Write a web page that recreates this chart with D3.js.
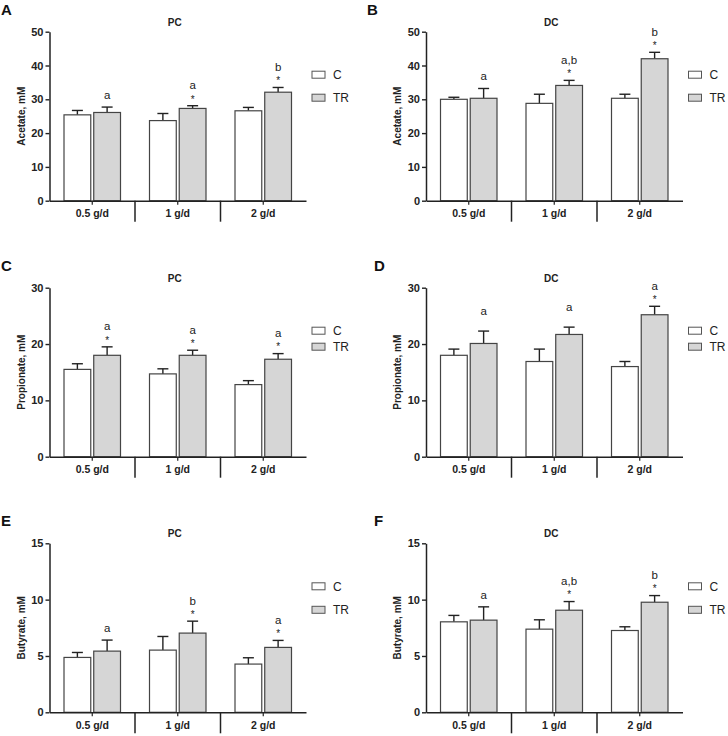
<!DOCTYPE html>
<html><head><meta charset="utf-8">
<script src="https://cdn.jsdelivr.net/npm/d3@7"></script>
<style>
html,body{margin:0;padding:0;background:#fff;}
svg{display:block;font-family:"Liberation Sans",Arial,sans-serif;}
</style></head>
<body>
<svg id="chart" width="728" height="736"></svg>
<script>
// ---------- data ----------
const groups = ["0.5 g/d", "1 g/d", "2 g/d"];
const seriesNames = ["C", "TR"];

const acetatePC_C = [25.4, 23.7, 26.6];
const acetatePC_C_err = [1.3, 2.1, 1.0];
const acetatePC_TR = [26.1, 27.3, 32.1];
const acetatePC_TR_err = [1.6, 0.8, 1.4];

const acetateDC_C = [30.0, 28.8, 30.3];
const acetateDC_C_err = [0.6, 2.7, 1.2];
const acetateDC_TR = [30.3, 34.1, 42.0];
const acetateDC_TR_err = [2.9, 1.5, 1.9];

const propionatePC_C = [15.5, 14.7, 12.8];
const propionatePC_C_err = [1.0, 0.9, 0.7];
const propionatePC_TR = [18.0, 18.0, 17.3];
const propionatePC_TR_err = [1.5, 0.9, 1.0];

const propionateDC_C = [18.0, 16.9, 16.0];
const propionateDC_C_err = [1.1, 2.2, 0.9];
const propionateDC_TR = [20.1, 21.7, 25.2];
const propionateDC_TR_err = [2.2, 1.3, 1.5];

const butyratePC_C = [4.87, 5.52, 4.28];
const butyratePC_C_err = [0.44, 1.21, 0.56];
const butyratePC_TR = [5.43, 7.03, 5.76];
const butyratePC_TR_err = [0.98, 1.06, 0.62];

const butyrateDC_C = [8.03, 7.38, 7.26];
const butyrateDC_C_err = [0.57, 0.83, 0.33];
const butyrateDC_TR = [8.18, 9.06, 9.77];
const butyrateDC_TR_err = [1.18, 0.77, 0.59];

const acetateTicks = [0, 10, 20, 30, 40, 50];
const propionateTicks = [0, 10, 20, 30];
const butyrateTicks = [0, 5, 10, 15];

// significance letters / stars above TR bars (" " = empty but space reserved)
const lettersA = ["a", "a", "b"],   starsA = ["", "*", "*"];
const lettersB = ["a", "a,b", "b"], starsB = ["", "*", "*"];
const lettersC = ["a", "a", "a"],   starsC = ["*", "*", "*"];
const lettersD = ["a", "a", "a"],   starsD = [" ", " ", "*"];
const lettersE = ["a", "b", "a"],   starsE = ["", "*", "*"];
const lettersF = ["a", "a,b", "b"], starsF = ["", "*", "*"];

const panels = [
  {id:"A", title:"PC", ylabel:"Acetate, mM", ticks:acetateTicks, C:acetatePC_C, Ce:acetatePC_C_err, T:acetatePC_TR, Te:acetatePC_TR_err, letters:lettersA, stars:starsA},
  {id:"B", title:"DC", ylabel:"Acetate, mM", ticks:acetateTicks, C:acetateDC_C, Ce:acetateDC_C_err, T:acetateDC_TR, Te:acetateDC_TR_err, letters:lettersB, stars:starsB},
  {id:"C", title:"PC", ylabel:"Propionate, mM", ticks:propionateTicks, C:propionatePC_C, Ce:propionatePC_C_err, T:propionatePC_TR, Te:propionatePC_TR_err, letters:lettersC, stars:starsC},
  {id:"D", title:"DC", ylabel:"Propionate, mM", ticks:propionateTicks, C:propionateDC_C, Ce:propionateDC_C_err, T:propionateDC_TR, Te:propionateDC_TR_err, letters:lettersD, stars:starsD},
  {id:"E", title:"PC", ylabel:"Butyrate, mM", ticks:butyrateTicks, C:butyratePC_C, Ce:butyratePC_C_err, T:butyratePC_TR, Te:butyratePC_TR_err, letters:lettersE, stars:starsE},
  {id:"F", title:"DC", ylabel:"Butyrate, mM", ticks:butyrateTicks, C:butyrateDC_C, Ce:butyrateDC_C_err, T:butyrateDC_TR, Te:butyrateDC_TR_err, letters:lettersF, stars:starsF}
];

// ---------- layout ----------
const colX = [49.5, 426];
const rowTop = [31.7, 287.7, 543.3];
const letterX = [[1, 367], [1, 374], [1, 374]];
const legendGap = [23, 16, 23.5];
const plotW = 256.5, plotH = 169;
const INK = "#222";

const svg = d3.select("#chart");

panels.forEach((p, i) => {
  const col = i % 2, row = Math.floor(i / 2);
  const ox = colX[col], oy = rowTop[row];
  const g = svg.append("g").attr("transform", `translate(${ox},${oy})`);

  const y = d3.scaleLinear().domain([0, d3.max(p.ticks)]).range([plotH, 0]);
  const x0 = d3.scaleBand().domain(groups).range([0, plotW]);
  const x1 = d3.scaleBand().domain(seriesNames).range([14.5, x0.bandwidth() - 14.5]).paddingInner(0.1);

  // panel letter
  svg.append("text").attr("x", letterX[row][col]).attr("y", oy - 17)
    .attr("font-size", 15).attr("font-weight", "bold").attr("fill", "#111").text(p.id);

  // title
  g.append("text").attr("x", plotW / 2 - 3).attr("y", -6)
    .attr("text-anchor", "middle").attr("font-size", 10).attr("font-weight", "bold")
    .attr("fill", INK).text(p.title);

  // y label
  g.append("text").attr("transform", `translate(${-25},${plotH / 2}) rotate(-90)`)
    .attr("text-anchor", "middle").attr("font-size", 10).attr("font-weight", "bold")
    .attr("fill", INK).text(p.ylabel);

  // bars
  const rows = groups.map((grp, k) => ({grp, k}));
  const series = [
    {name:"C", vals:p.C, errs:p.Ce, fill:"#ffffff", stroke:"#444"},
    {name:"TR", vals:p.T, errs:p.Te, fill:"#d6d6d6", stroke:"#444"}
  ];
  series.forEach(s => {
    const bw = x1.bandwidth();
    // error bars (upper only)
    g.selectAll(null).data(rows).enter().append("line")
      .attr("x1", d => x0(d.grp) + x1(s.name) + bw / 2)
      .attr("x2", d => x0(d.grp) + x1(s.name) + bw / 2)
      .attr("y1", d => y(s.vals[d.k]))
      .attr("y2", d => y(s.vals[d.k] + s.errs[d.k]))
      .attr("stroke", INK).attr("stroke-width", 1.4);
    g.selectAll(null).data(rows).enter().append("line")
      .attr("x1", d => x0(d.grp) + x1(s.name) + bw / 2 - 5.5)
      .attr("x2", d => x0(d.grp) + x1(s.name) + bw / 2 + 5.5)
      .attr("y1", d => y(s.vals[d.k] + s.errs[d.k]))
      .attr("y2", d => y(s.vals[d.k] + s.errs[d.k]))
      .attr("stroke", INK).attr("stroke-width", 1.4);
    g.selectAll(null).data(rows).enter().append("rect")
      .attr("x", d => x0(d.grp) + x1(s.name))
      .attr("y", d => y(s.vals[d.k]))
      .attr("width", bw)
      .attr("height", d => plotH - y(s.vals[d.k]))
      .attr("fill", s.fill).attr("stroke", s.stroke).attr("stroke-width", 1.2);
  });

  // annotations above TR bars
  rows.forEach(d => {
    const cx = x0(d.grp) + x1("TR") + x1.bandwidth() / 2;
    const top = y(p.T[d.k] + p.Te[d.k]);
    const star = p.stars[d.k];
    const hasStarRow = star !== "";
    if (star.trim() !== "") {
      g.append("text").attr("x", cx).attr("y", top - 3.2)
        .attr("text-anchor", "middle").attr("font-size", 10).attr("fill", INK).text(star);
    }
    g.append("text").attr("x", cx).attr("y", hasStarRow ? top - 16.5 : top - 8)
      .attr("text-anchor", "middle").attr("font-size", 11.5).attr("fill", INK).text(p.letters[d.k]);
  });

  // y axis
  const ya = g.append("g").call(d3.axisLeft(y).tickValues(p.ticks).tickSize(4).tickSizeOuter(0).tickPadding(2));
  ya.select(".domain").attr("stroke", INK).attr("stroke-width", 1.5);
  ya.selectAll(".tick line").attr("stroke", INK).attr("stroke-width", 1.4);
  ya.selectAll(".tick text").attr("font-size", 11).attr("font-weight", "bold").attr("fill", INK)
    .attr("font-family", "'Liberation Sans',Arial,sans-serif");

  // x axis
  const xa = g.append("g").attr("transform", `translate(0,${plotH})`)
    .call(d3.axisBottom(x0).tickSize(4).tickSizeOuter(0).tickPadding(5));
  xa.select(".domain").attr("stroke", INK).attr("stroke-width", 1.5);
  xa.selectAll(".tick line").attr("stroke", INK).attr("stroke-width", 1.2);
  xa.selectAll(".tick text").attr("font-size", 10.5).attr("font-weight", "bold").attr("fill", INK)
    .attr("font-family", "'Liberation Sans',Arial,sans-serif");
  // group separators
  groups.slice(1).forEach(grp => {
    g.append("line").attr("x1", x0(grp)).attr("x2", x0(grp))
      .attr("y1", plotH).attr("y2", plotH + 21)
      .attr("stroke", INK).attr("stroke-width", 1.5);
  });

  // legend
  const lg = g.append("g").attr("transform", `translate(${plotW + 6},0)`);
  series.forEach((s, k) => {
    const cy = 43 + k * legendGap[row];
    lg.append("rect").attr("x", 0).attr("y", cy - 3.5).attr("width", 13).attr("height", 7)
      .attr("fill", s.fill).attr("stroke", "#555").attr("stroke-width", 1);
    lg.append("text").attr("x", 21).attr("y", cy + 4.3)
      .attr("font-size", 12).attr("fill", INK).text(s.name);
  });
});
</script>
</body></html>
